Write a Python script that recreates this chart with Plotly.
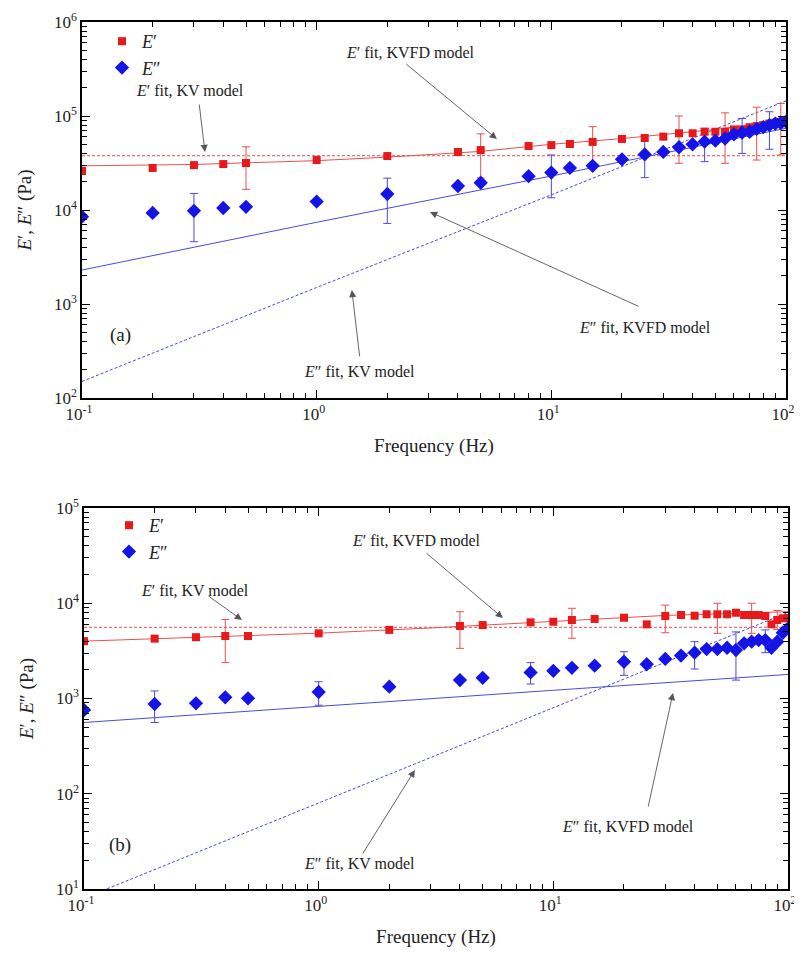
import numpy as np
import plotly.graph_objects as go

# ---------------- data: panel (a) ----------------
freq = [0.1, 0.2, 0.3, 0.4, 0.5, 1, 2, 4, 5, 8, 10, 12, 15, 20, 25, 30, 35, 40, 45,
        50, 55, 60, 65, 70, 75, 80, 85, 90, 95, 100]

a_Ep = [26000, 28000, 30000, 30800, 31600, 34000, 37500, 41400, 43400, 47900, 49000,
        50400, 53000, 57000, 58300, 60300, 65500, 65500, 68000, 68000, 68000, 72000,
        72000, 76000, 78000, 80000, 83000, 85000, 87000, 90000]
a_Epp = [8500, 9300, 9800, 10500, 10800, 12300, 14800, 18000, 19500, 22900, 25000,
         28000, 29500, 34600, 39000, 41500, 46500, 50000, 53300, 54600, 57500, 63800,
         66500, 68000, 72800, 76000, 80000, 83000, 84000, 87000]

a_Ep_err_f = [0.5, 5, 15, 35, 55, 75, 95]
a_Ep_err_hi = [47000, 64600, 77000, 100000, 108000, 124000, 136000]
a_Ep_err_lo = [16600, 21900, 28000, 31400, 31400, 34000, 38500]
a_Ep_err_v = [31600, 43400, 53000, 65500, 68000, 78000, 87000]

a_Epp_err_f = [0.3, 2, 10, 25, 45, 65, 85]
a_Epp_err_hi = [15000, 21800, 38500, 61000, 74000, 94000, 111000]
a_Epp_err_lo = [4600, 7200, 13500, 22100, 32700, 40000, 44300]
a_Epp_err_v = [9800, 14800, 25000, 39000, 53300, 66500, 80000]

a_fit_f = [0.1, 0.3, 1, 2, 5, 10, 20, 30, 50, 100]
a_Ep_kvfd = [29500, 30500, 33500, 36500, 42000, 50000, 57500, 63000, 72000, 90000]
a_line_f = [0.1, 1, 10, 100]
a_Epp_kvfd = [2300, 7400, 23000, 74000]
a_Epp_kv = [150, 1500, 14500, 145000]
a_Ep_kv_f = [0.1, 100]
a_Ep_kv = [37800, 37800]

# ---------------- data: panel (b) ----------------
b_Ep = [4000, 4250, 4400, 4530, 4530, 4830, 5250, 5770, 5900, 6300, 6400, 6670, 6840,
        7050, 6000, 7350, 7530, 7400, 7660, 7660, 7660, 7950, 7530, 7530, 7530, 7350,
        6010, 6670, 6950, 7000]
b_Epp = [757, 875, 890, 1030, 1005, 1170, 1330, 1560, 1650, 1880, 1950, 2100, 2210,
         2430, 2290, 2600, 2820, 3030, 3300, 3300, 3410, 3230, 3800, 3950, 4110, 4110,
         3410, 3950, 4900, 5460]

b_Ep_err_f = [0.4, 4, 12, 30, 50, 70, 90]
b_Ep_err_hi = [6760, 8150, 8850, 9550, 10000, 10000, 8400]
b_Ep_err_lo = [2380, 3360, 4290, 4900, 4830, 4830, 5300]
b_Ep_err_v = [4530, 5770, 6670, 7350, 7660, 7530, 6670]

b_Epp_err_f = [0.2, 1, 8, 20, 40, 60, 80]
b_Epp_err_hi = [1200, 1500, 2380, 3100, 3950, 5000, 5250]
b_Epp_err_lo = [560, 850, 1420, 1750, 2040, 1560, 3030]
b_Epp_err_v = [875, 1170, 1880, 2430, 3030, 3230, 4110]

b_fit_f = [0.1, 0.3, 1, 3, 10, 30, 100]
b_Ep_kvfd = [4000, 4350, 4850, 5500, 6400, 7450, 8150]
b_line_f = [0.1, 1, 10, 100]
b_Epp_kvfd = [560, 830, 1220, 1790]
b_Epp_kv = [8, 80, 800, 8000]
b_Ep_kv_f = [0.1, 100]
b_Ep_kv = [5590, 5590]

xtick_vals = [0.1, 1, 10, 100]
xtick_text = ["10<sup>-1</sup>", "10<sup>0</sup>", "10<sup>1</sup>", "10<sup>2</sup>"]
a_ytick_vals = [1e2, 1e3, 1e4, 1e5, 1e6]
a_ytick_text = ["10<sup>2</sup>", "10<sup>3</sup>", "10<sup>4</sup>", "10<sup>5</sup>", "10<sup>6</sup>"]
b_ytick_vals = [1e1, 1e2, 1e3, 1e4, 1e5]
b_ytick_text = ["10<sup>1</sup>", "10<sup>2</sup>", "10<sup>3</sup>", "10<sup>4</sup>", "10<sup>5</sup>"]

RED = "#e8191a"
BLUE = "#1414e6"
RED_L = "#e8504f"
BLUE_L = "#4a4ae0"
FONT = "Liberation Serif, Times New Roman, Times, serif"

fig = go.Figure()


def add_panel(xa, ya, Ep, Epp, Ep_ef, Ep_eh, Ep_el, Ep_ev, Epp_ef, Epp_eh, Epp_el, Epp_ev,
              fit_f, Ep_kvfd, line_f, Epp_kvfd, Epp_kv, Ep_kv_f, Ep_kv, legend):
    # fit lines
    fig.add_trace(go.Scatter(x=Ep_kv_f, y=Ep_kv, mode="lines", xaxis=xa, yaxis=ya,
                             line=dict(color=RED_L, width=1, dash="3px,2px"), showlegend=False))
    fig.add_trace(go.Scatter(x=fit_f, y=Ep_kvfd, mode="lines", xaxis=xa, yaxis=ya,
                             line=dict(color=RED_L, width=1), showlegend=False))
    fig.add_trace(go.Scatter(x=line_f, y=Epp_kv, mode="lines", xaxis=xa, yaxis=ya,
                             line=dict(color=BLUE_L, width=1, dash="3px,2px"), showlegend=False))
    fig.add_trace(go.Scatter(x=line_f, y=Epp_kvfd, mode="lines", xaxis=xa, yaxis=ya,
                             line=dict(color=BLUE_L, width=1), showlegend=False))
    # error bars
    fig.add_trace(go.Scatter(
        x=Ep_ef, y=Ep_ev, mode="markers", xaxis=xa, yaxis=ya, showlegend=False,
        marker=dict(size=1, opacity=0),
        error_y=dict(type="data", symmetric=False,
                     array=[h - v for h, v in zip(Ep_eh, Ep_ev)],
                     arrayminus=[v - l for l, v in zip(Ep_el, Ep_ev)],
                     color=RED_L, thickness=1, width=4)))
    fig.add_trace(go.Scatter(
        x=Epp_ef, y=Epp_ev, mode="markers", xaxis=xa, yaxis=ya, showlegend=False,
        marker=dict(size=1, opacity=0),
        error_y=dict(type="data", symmetric=False,
                     array=[h - v for h, v in zip(Epp_eh, Epp_ev)],
                     arrayminus=[v - l for l, v in zip(Epp_el, Epp_ev)],
                     color=BLUE_L, thickness=1, width=4)))
    # data markers
    fig.add_trace(go.Scatter(x=freq, y=Ep, mode="markers", xaxis=xa, yaxis=ya,
                             name="<i>E</i>′", legend=legend,
                             marker=dict(symbol="square", size=8, color=RED)))
    fig.add_trace(go.Scatter(x=freq, y=Epp, mode="markers", xaxis=xa, yaxis=ya,
                             name="<i>E</i>″", legend=legend,
                             marker=dict(symbol="diamond", size=11, color=BLUE)))


add_panel("x", "y", a_Ep, a_Epp, a_Ep_err_f, a_Ep_err_hi, a_Ep_err_lo, a_Ep_err_v,
          a_Epp_err_f, a_Epp_err_hi, a_Epp_err_lo, a_Epp_err_v,
          a_fit_f, a_Ep_kvfd, a_line_f, a_Epp_kvfd, a_Epp_kv, a_Ep_kv_f, a_Ep_kv, "legend")
add_panel("x2", "y2", b_Ep, b_Epp, b_Ep_err_f, b_Ep_err_hi, b_Ep_err_lo, b_Ep_err_v,
          b_Epp_err_f, b_Epp_err_hi, b_Epp_err_lo, b_Epp_err_v,
          b_fit_f, b_Ep_kvfd, b_line_f, b_Epp_kvfd, b_Epp_kv, b_Ep_kv_f, b_Ep_kv, "legend2")

minor_x = [m * 10.0 ** d for d in range(-1, 2) for m in range(2, 10)]
minor_a = [m * 10.0 ** d for d in range(2, 6) for m in range(2, 10)]
minor_b = [m * 10.0 ** d for d in range(1, 5) for m in range(2, 10)]

axis_common = dict(type="log", showline=True, linecolor="black", linewidth=1.5,
                   mirror="ticks", ticks="inside", ticklen=8, tickwidth=1.2,
                   tickcolor="black", showgrid=False, zeroline=False, automargin=False,
                   tickfont=dict(family=FONT, size=17, color="#222"))

# the page body adds an 8 px offset, so the figure is 8 px smaller
OFF = 8
W, H = 802 - OFF, 954 - OFF


def xdom(l, r):
    return [(l - OFF) / W, (r - OFF) / W]


def ydom(t, b):
    return [1 - (b - OFF) / H, 1 - (t - OFF) / H]


def px(x):
    return (x - OFF) / W


def py(y):
    return 1 - (y - OFF) / H


xtitle = dict(text="Frequency (Hz)", font=dict(family=FONT, size=19, color="#222"), standoff=16)
ytitle = dict(text="<i>E</i>′, <i>E</i>″ (Pa)", font=dict(family=FONT, size=19, color="#222"), standoff=17)

xminor = dict(tickmode="array", tickvals=minor_x, ticks="inside", ticklen=5,
              tickcolor="black", tickwidth=1)

fig.update_layout(
    width=W, height=H, margin=dict(l=0, r=0, t=0, b=0, autoexpand=False),
    paper_bgcolor="white", plot_bgcolor="white",
    font=dict(family=FONT, color="#222"),
    xaxis=dict(axis_common, domain=xdom(82, 786), range=[-1, 2], anchor="y",
               tickmode="array", tickvals=xtick_vals, ticktext=xtick_text,
               ticklabelshift=-3, minor=xminor, title=xtitle),
    yaxis=dict(axis_common, domain=ydom(22, 398), range=[2, 6], anchor="x",
               tickmode="array", tickvals=a_ytick_vals, ticktext=a_ytick_text,
               minor=dict(tickmode="array", tickvals=minor_a, ticks="inside", ticklen=5,
                          tickcolor="black", tickwidth=1),
               title=ytitle),
    xaxis2=dict(axis_common, domain=xdom(84, 788), range=[-1, 2], anchor="y2",
                tickmode="array", tickvals=xtick_vals, ticktext=xtick_text,
                ticklabelshift=-3, minor=xminor, title=xtitle),
    yaxis2=dict(axis_common, domain=ydom(508, 889), range=[1, 5], anchor="x2",
                tickmode="array", tickvals=b_ytick_vals, ticktext=b_ytick_text,
                minor=dict(tickmode="array", tickvals=minor_b, ticks="inside", ticklen=5,
                           tickcolor="black", tickwidth=1),
                title=ytitle),
    legend=dict(x=px(102), y=py(23), xanchor="left", yanchor="top",
                bgcolor="rgba(0,0,0,0)", font=dict(family=FONT, size=18, color="#222"),
                itemsizing="trace", tracegroupgap=0),
    legend2=dict(x=px(109), y=py(507), xanchor="left", yanchor="top",
                 bgcolor="rgba(0,0,0,0)", font=dict(family=FONT, size=18, color="#222"),
                 itemsizing="trace", tracegroupgap=0),
    showlegend=True,
)

ann_font = dict(family=FONT, size=16, color="#222")


def txt(xr, yr, lx, ly, text):
    fig.add_annotation(x=lx, y=ly, xref=xr, yref=yr, text=text, showarrow=False,
                       font=ann_font)


def arrow(xr, yr, hx, hy, tx, ty):
    fig.add_annotation(x=hx, y=hy, ax=tx, ay=ty, xref=xr, yref=yr, axref=xr, ayref=yr,
                       text="", showarrow=True, arrowhead=2, arrowsize=1.6,
                       arrowwidth=0.9, arrowcolor="#555")


# panel (a) annotations (log10 coordinates)
txt("x", "y", 0.398, 5.68, "<i>E</i>′ fit, KVFD model")
arrow("x", "y", 0.768, 4.755, 0.376, 5.564)
txt("x", "y", -0.54, 5.266, "<i>E</i>′ fit, KV model")
arrow("x", "y", -0.476, 4.617, -0.501, 5.138)
txt("x", "y", 1.399, 2.745, "<i>E</i>″ fit, KVFD model")
arrow("x", "y", 0.483, 3.979, 1.378, 2.968)
txt("x", "y", 0.184, 2.277, "<i>E</i>″ fit, KV model")
arrow("x", "y", 0.150, 3.149, 0.184, 2.426)
fig.add_annotation(x=-0.838, y=2.67, xref="x", yref="y", text="(a)", showarrow=False,
                   font=dict(family=FONT, size=19, color="#222"))

# panel (b) annotations
txt("x2", "y2", 0.419, 4.664, "<i>E</i>′ fit, KVFD model")
arrow("x2", "y2", 0.785, 3.845, 0.453, 4.538)
txt("x2", "y2", -0.527, 4.139, "<i>E</i>′ fit, KV model")
arrow("x2", "y2", -0.327, 3.824, -0.476, 4.087)
txt("x2", "y2", 1.318, 1.651, "<i>E</i>″ fit, KVFD model")
arrow("x2", "y2", 1.51, 3.058, 1.403, 1.85)
txt("x2", "y2", 0.176, 1.273, "<i>E</i>″ fit, KV model")
arrow("x2", "y2", 0.410, 2.249, 0.184, 1.357)
fig.add_annotation(x=-0.847, y=1.462, xref="x2", yref="y2", text="(b)", showarrow=False,
                   font=dict(family=FONT, size=19, color="#222"))

fig.write_html("out.html")
